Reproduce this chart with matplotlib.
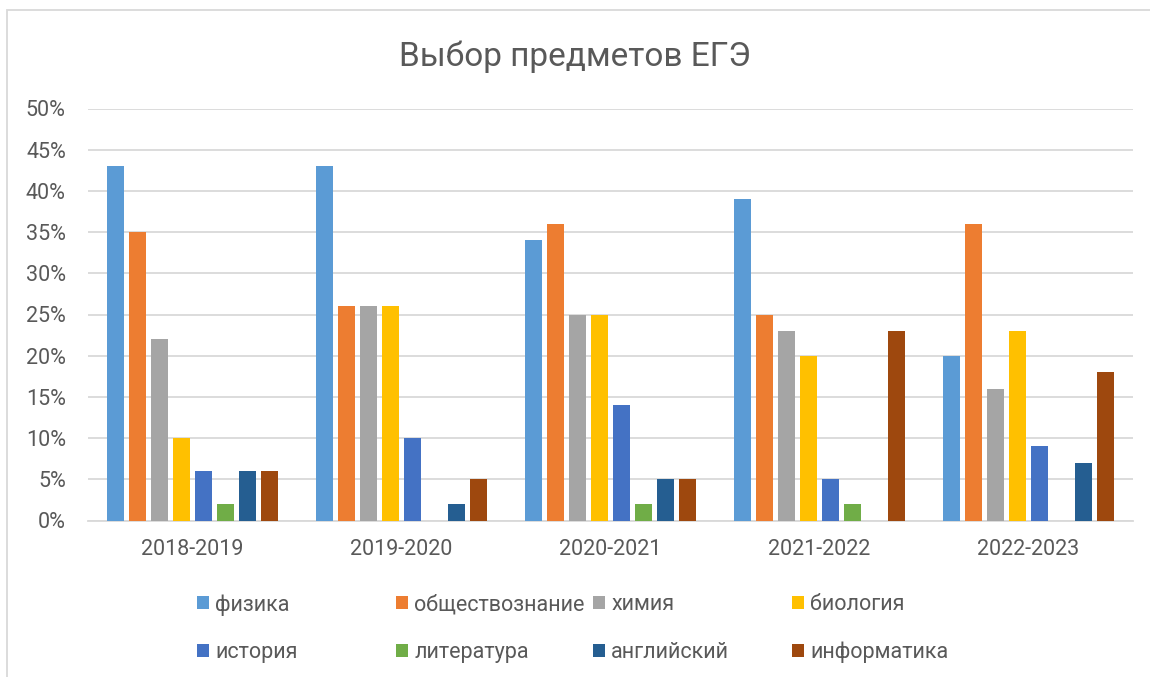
import matplotlib
matplotlib.use("Agg")
import matplotlib.pyplot as plt
import matplotlib.patches as mpatches
from matplotlib.ticker import PercentFormatter
import numpy as np

plt.rcParams['font.family'] = ['Roboto', 'DejaVu Sans']

title = "Выбор предметов ЕГЭ"
years = ["2018-2019", "2019-2020", "2020-2021", "2021-2022", "2022-2023"]
subjects = ["физика", "обществознание", "химия", "биология",
            "история", "литература", "английский", "информатика"]
fizika = [43, 43, 34, 39, 20]
obshch = [35, 26, 36, 25, 36]
himiya = [22, 26, 25, 23, 16]
biologiya = [10, 26, 25, 20, 23]
istoriya = [6, 10, 14, 5, 9]
literatura = [2, 0, 2, 2, 0]
angliyskiy = [6, 2, 5, 0, 7]
informatika = [6, 5, 5, 23, 18]
series = [fizika, obshch, himiya, biologiya, istoriya, literatura, angliyskiy, informatika]
colors = ["#5B9BD5", "#ED7D31", "#A5A5A5", "#FFC000",
          "#4472C4", "#70AD47", "#255E91", "#9E480E"]

W, H = 1150, 677
fig = plt.figure(figsize=(W / 100, H / 100), dpi=100)
ax = fig.add_axes([88 / W, 1 - 520.5 / H, (1133 - 88) / W, (520.5 - 108.5) / H])

x = np.arange(len(years))
step = 22 / 209
bw = 17.3 / 209
n = len(series)
handles = []
for i, (vals, c) in enumerate(zip(series, colors)):
    offs = (i - (n - 1) / 2) * step
    b = ax.bar(x + offs, np.array(vals) / 100, width=bw, color=c, zorder=3)
    handles.append(b)

ax.set_xlim(-0.5, len(years) - 0.5)
ax.set_ylim(0, 0.5)
ax.set_yticks(np.arange(0, 0.51, 0.05))
ax.yaxis.set_major_formatter(PercentFormatter(1.0, decimals=0))
ax.set_xticks(x)
ax.set_xticklabels(years)
ax.grid(axis='y', color='#D9D9D9', linewidth=1.3, zorder=0)
for s in ['top', 'right', 'left']:
    ax.spines[s].set_visible(False)
ax.spines['bottom'].set_color('#D9D9D9')
ax.spines['bottom'].set_linewidth(1.3)
ax.tick_params(axis='both', length=0, labelsize=15.5, colors='#595959')
ax.tick_params(axis='y', pad=16)
ax.tick_params(axis='x', pad=13)

fig.text(0.5, 1 - 57 / H, title, ha='center', va='center', fontsize=24, color='#595959')

# frame
fig.add_artist(mpatches.Rectangle((7 / W, -0.05), 1.2, 1 - 10 / H + 0.05,
                                  transform=fig.transFigure, fill=False,
                                  edgecolor='#D9D9D9', linewidth=1.3))

# legend: 4 fixed columns, 2 rows
col_x = [197, 396, 593, 792]
for col in range(4):
    hs = [handles[col], handles[col + 4]]
    labs = [subjects[col], subjects[col + 4]]
    fig.legend(hs, labs, loc='upper left',
               bbox_to_anchor=(col_x[col] / W, 1 - 594 / H),
               frameon=False, fontsize=15.5, labelcolor='#595959',
               handlelength=0.55, handleheight=0.55, handletextpad=0.3,
               labelspacing=1.25, borderpad=0, borderaxespad=0)

fig.savefig("out.png", dpi=100, facecolor='white')
